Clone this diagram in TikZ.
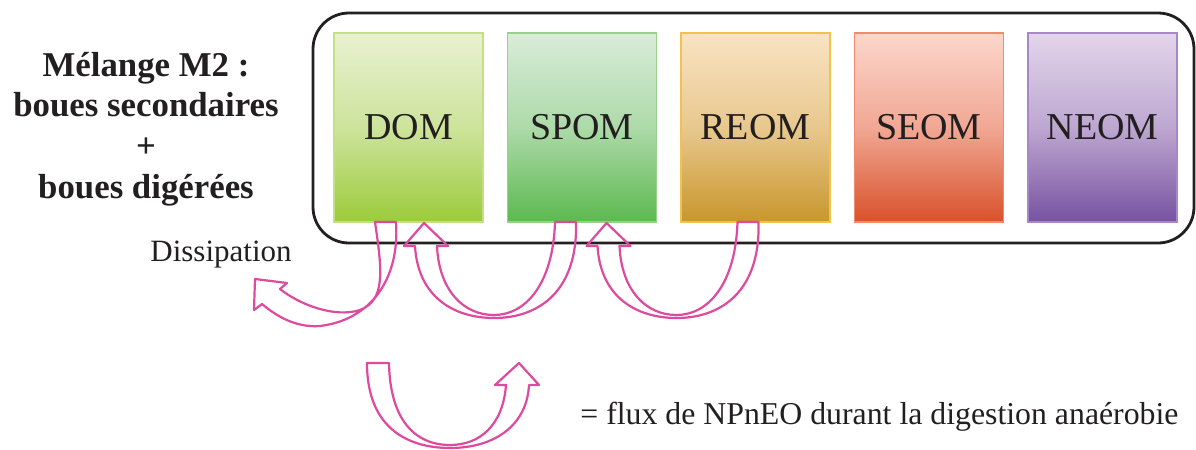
\documentclass[tikz,border=0pt]{standalone}
\usepackage{fontspec}
\setmainfont{Liberation Serif}
\usepackage{xcolor}
\usepackage{tikz}
\usetikzlibrary{positioning}

\definecolor{ink}{HTML}{231F20}
\definecolor{flux}{HTML}{DD4A9E}
\definecolor{domtop}{HTML}{E8F1D0}   \definecolor{dombot}{HTML}{9CCB3B}   \definecolor{domline}{HTML}{C5DF85}
\definecolor{spomtop}{HTML}{D9ECD9}  \definecolor{spombot}{HTML}{5CB94F}  \definecolor{spomline}{HTML}{96D08A}
\definecolor{reomtop}{HTML}{F9E3C3}  \definecolor{reombot}{HTML}{C8962B}  \definecolor{reomline}{HTML}{F2C14E}
\definecolor{seomtop}{HTML}{FDD6CC}  \definecolor{seombot}{HTML}{D9512A}  \definecolor{seomline}{HTML}{F08C6C}
\definecolor{neomtop}{HTML}{E3D5EA}  \definecolor{neombot}{HTML}{7752A1}  \definecolor{neomline}{HTML}{A987C6}

\begin{document}
\begin{tikzpicture}[
    x=0.5pt, y=-0.5pt,
    pool/.style={rectangle, minimum width=74.5pt, minimum height=94.5pt, inner sep=0pt, line width=0.6pt, text=ink, font=\fontsize{19}{22}\selectfont},
    frame/.style={rectangle, draw=ink, line width=1.4pt, rounded corners=18pt, minimum width=440.5pt, minimum height=115pt},
    flux arrow/.style={draw=flux, line width=1.1pt, line join=round},
    label/.style={inner sep=0pt, text=ink}
]
\useasboundingbox (0,0) rectangle (1196,450);

% Cadre
\node[frame] (frame) at (753.5,128) {};

% Compartiments
\foreach \name/\lab/\x in {dom/DOM/408.5, spom/SPOM/582, reom/REOM/755.5, seom/SEOM/929, neom/NEOM/1102.5}
    \node[pool, draw=\name line, top color=\name top, bottom color=\name bot, middle color=\name top!65!\name bot] (\name) at (\x,127.5) {\lab};

% Textes
\node[label, align=center, font=\fontsize{17.4}{20.4}\selectfont\bfseries] (mixlabel) at (146,129)
    {Mélange M2 :\\boues secondaires\\+\\boues digérées};
\node[label, anchor=base west, font=\fontsize{15.5}{18}\selectfont] (disslabel) at (150,261) {Dissipation};
\node[label, anchor=base west, font=\fontsize{15.9}{19}\selectfont] (fluxlabel) at (580,424)
    {= flux de NPnEO durant la digestion anaérobie};

% Flux : dissipation
\draw[flux arrow] (375,222) .. controls (382,270) and (386,300) .. (360,310)
    .. controls (335,318) and (300,305) .. (280,289) -- (287,283) -- (255,279) -- (254,310) -- (262,304)
    .. controls (275,315) and (295,328) .. (320,326)
    .. controls (370,320) and (400,280) .. (396,222) -- cycle;

% Flux entre compartiments
\foreach \dx in {0,182.5} {
    \draw[flux arrow] (555+\dx,222) .. controls (553+\dx,285) and (525+\dx,315) .. (494+\dx,315)
        .. controls (463+\dx,315) and (439+\dx,290) .. (437+\dx,246)
        -- (448+\dx,246) -- (424+\dx,223) -- (404+\dx,246) -- (415+\dx,246)
        .. controls (418+\dx,298) and (455+\dx,318) .. (494+\dx,318)
        .. controls (540+\dx,318) and (578+\dx,290) .. (576+\dx,222) -- cycle;
}

% Legende
\draw[flux arrow] (389,363) -- (367,363) .. controls (367,430) and (410,448) .. (450,448)
    .. controls (495,448) and (527,425) .. (529,385) -- (539,385) -- (519,363) -- (495,385) -- (506,385)
    .. controls (503,425) and (480,445) .. (450,445)
    .. controls (415,445) and (390,420) .. (389,363) -- cycle;

\end{tikzpicture}
\end{document}
